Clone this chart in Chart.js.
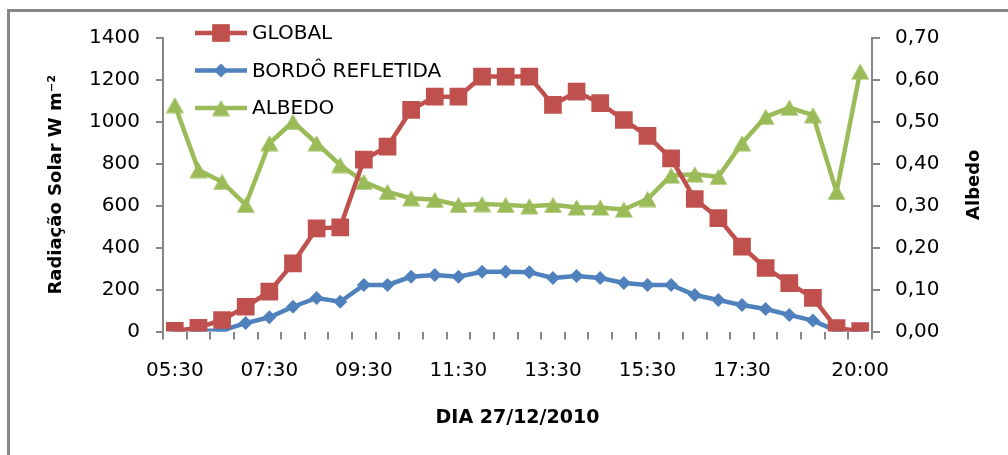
<!DOCTYPE html>
<html>
<head>
<meta charset="utf-8">
<script src="https://cdn.jsdelivr.net/npm/chart.js@4/dist/chart.umd.min.js"></script>
<style>
  html, body { margin: 0; padding: 0; background: #fff; overflow: hidden; }
  #wrap { position: relative; width: 1008px; height: 455px; overflow: hidden; }
  #frame { position: absolute; left: 7px; top: 9px; width: 1030px; height: 480px;
           border: 3px solid #878787; box-sizing: border-box; }
  #c { position: absolute; left: 0; top: 0; }
</style>
</head>
<body>
<div id="wrap">
  <div id="frame"></div>
  <canvas id="c" width="1008" height="455"></canvas>
</div>
<script>
// Half-hourly readings, 27/12/2010
const timeLabels = [
  '05:30','06:00','06:30','07:00','07:30','08:00','08:30','09:00','09:30','10:00',
  '10:30','11:00','11:30','12:00','12:30','13:00','13:30','14:00','14:30','15:00',
  '15:30','16:00','16:30','17:00','17:30','18:00','18:30','19:00','19:30','20:00'
];
const shownTimeLabels = ['05:30','07:30','09:30','11:30','13:30','15:30','17:30','20:00'];

// Radiação solar (W m-2)
const globalW = [3, 18, 55, 118, 190, 325, 492, 497, 820, 882,
                 1057, 1120, 1120, 1216, 1216, 1216, 1081, 1144, 1089, 1009,
                 933, 826, 632, 541, 405, 303, 231, 160, 16, 2];
const refletidaW = [10, 3, 5, 40, 68, 118, 160, 142, 222, 222,
                    261, 270, 261, 285, 285, 283, 255, 265, 255, 231,
                    222, 222, 174, 150, 126, 107, 79, 52, 3, 2];
// Albedo (fração)
const albedo = [0.540, 0.385, 0.357, 0.302, 0.449, 0.500, 0.449, 0.397, 0.357, 0.333,
                0.318, 0.314, 0.302, 0.304, 0.302, 0.299, 0.302, 0.296, 0.296, 0.291,
                0.316, 0.372, 0.375, 0.369, 0.449, 0.512, 0.534, 0.516, 0.333, 0.620];

const seriesNames = ['GLOBAL', 'BORDÔ REFLETIDA', 'ALBEDO'];
const leftTitle = 'Radiação Solar W m⁻²';
const rightTitle = 'Albedo';
const xTitle = 'DIA 27/12/2010';

const RED = '#C0504D', BLUE = '#4F81BD', GREEN = '#9BBB59';
const FONT = "'DejaVu Sans', sans-serif";

// Triangle marker centred on its bounding box
function triangleMarker(color) {
  const w = 19, h = 17;
  const cv = document.createElement('canvas');
  cv.width = w; cv.height = h;
  const g = cv.getContext('2d');
  g.fillStyle = color;
  g.beginPath();
  g.moveTo(w / 2, 0.5);
  g.lineTo(w - 0.5, h - 0.5);
  g.lineTo(0.5, h - 0.5);
  g.closePath();
  g.fill();
  return cv;
}
const triImg = triangleMarker(GREEN);

// Legend drawn as line + marker samples inside the plot
const lineLegend = {
  id: 'lineLegend',
  afterDatasetsDraw(chart) {
    const ctx = chart.ctx;
    const x0 = 195, x1 = 247, tx = 252;
    const rows = [33, 70.5, 108];
    chart.data.datasets.forEach((ds, i) => {
      const y = rows[i];
      const cx = (x0 + x1) / 2;
      ctx.save();
      ctx.strokeStyle = ds.borderColor;
      ctx.lineWidth = ds.borderWidth;
      ctx.beginPath(); ctx.moveTo(x0, y); ctx.lineTo(x1, y); ctx.stroke();
      ctx.fillStyle = ds.pointBackgroundColor;
      if (ds.pointStyle === 'rect') {
        const s = Math.SQRT1_2 * ds.pointRadius;
        ctx.fillRect(cx - s, y - s, 2 * s, 2 * s);
      } else if (ds.pointStyle === 'rectRot') {
        const r = ds.pointRadius;
        ctx.beginPath();
        ctx.moveTo(cx - r, y); ctx.lineTo(cx, y - r);
        ctx.lineTo(cx + r, y); ctx.lineTo(cx, y + r);
        ctx.closePath(); ctx.fill();
      } else if (ds.pointStyle instanceof HTMLCanvasElement) {
        const im = ds.pointStyle;
        ctx.drawImage(im, cx - im.width / 2, y - im.height / 2);
      }
      ctx.fillStyle = '#000';
      ctx.font = '20px ' + FONT;
      ctx.textBaseline = 'middle';
      ctx.textAlign = 'left';
      ctx.fillText(ds.label, tx, y + 1);
      ctx.restore();
    });
  }
};

// Right-hand axis title, reading bottom to top like the left one
const rightAxisTitle = {
  id: 'rightAxisTitle',
  afterDraw(chart) {
    const ctx = chart.ctx;
    const area = chart.chartArea;
    ctx.save();
    ctx.translate(974, (area.top + area.bottom) / 2);
    ctx.rotate(-Math.PI / 2);
    ctx.fillStyle = '#000';
    ctx.font = 'bold 18px ' + FONT;
    ctx.textAlign = 'center';
    ctx.textBaseline = 'middle';
    ctx.fillText(rightTitle, 0, 0);
    ctx.restore();
  }
};

const axisGray = '#868686';

new Chart(document.getElementById('c'), {
  type: 'line',
  data: {
    labels: timeLabels,
    datasets: [
      {
        label: seriesNames[0], data: globalW, yAxisID: 'y',
        borderColor: RED, backgroundColor: RED, borderWidth: 4.5,
        pointStyle: 'rect', pointRadius: 12.5, pointHoverRadius: 12.5,
        pointBackgroundColor: RED, pointBorderColor: RED, pointBorderWidth: 0,
        tension: 0
      },
      {
        label: seriesNames[1], data: refletidaW, yAxisID: 'y',
        borderColor: BLUE, backgroundColor: BLUE, borderWidth: 4.5,
        pointStyle: 'rectRot', pointRadius: 7, pointHoverRadius: 7,
        pointBackgroundColor: BLUE, pointBorderColor: BLUE, pointBorderWidth: 0,
        tension: 0
      },
      {
        label: seriesNames[2], data: albedo, yAxisID: 'y1',
        borderColor: GREEN, backgroundColor: GREEN, borderWidth: 4.5,
        pointStyle: triImg, pointRadius: 10, pointHoverRadius: 10,
        pointBackgroundColor: GREEN, pointBorderColor: GREEN, pointBorderWidth: 0,
        tension: 0
      }
    ]
  },
  options: {
    responsive: false,
    animation: false,
    events: [],
    devicePixelRatio: 1,
    layout: { padding: { top: 38, left: 0, right: 0, bottom: 0 } },
    plugins: { legend: { display: false }, tooltip: { enabled: false } },
    scales: {
      x: {
        type: 'category',
        offset: true,
        grid: { offset: true, drawOnChartArea: false, drawTicks: true, tickLength: 8,
                color: axisGray, lineWidth: 2 },
        border: { display: false },
        ticks: {
          autoSkip: false, maxRotation: 0, minRotation: 0, padding: 19.5,
          color: '#000', font: { family: FONT, size: 20 },
          callback: function (v) {
            const lab = this.getLabelForValue(v);
            return shownTimeLabels.includes(lab) ? lab : '';
          }
        },
        title: { display: true, text: xTitle, color: '#000',
                 font: { family: FONT, size: 19, weight: 'bold' },
                 padding: { top: 0, bottom: 25.6 } },
        afterFit(scale) { scale.height = 123.5; }
      },
      y: {
        position: 'left', min: 0, max: 1400,
        grid: { drawOnChartArea: false, drawTicks: true, tickLength: 7,
                color: axisGray, lineWidth: 2 },
        border: { display: true, color: axisGray, width: 2 },
        ticks: { stepSize: 200, padding: 16, color: '#000',
                 font: { family: FONT, size: 20 },
                 callback: v => String(Math.round(v)) },
        title: { display: true, text: leftTitle, color: '#000',
                 font: { family: FONT, size: 18, weight: 'bold' },
                 padding: { top: 46, bottom: 0 } },
        afterFit(scale) { scale.width = 163; }
      },
      y1: {
        position: 'right', min: 0, max: 0.7,
        grid: { drawOnChartArea: false, drawTicks: true, tickLength: 8,
                color: axisGray, lineWidth: 2 },
        border: { display: true, color: axisGray, width: 2 },
        ticks: { stepSize: 0.1, padding: 15, color: '#000',
                 font: { family: FONT, size: 20 },
                 callback: v => Number(v).toFixed(2).replace('.', ',') },
        title: { display: false },
        afterFit(scale) { scale.width = 136; }
      }
    }
  },
  plugins: [lineLegend, rightAxisTitle]
});
</script>
</body>
</html>
